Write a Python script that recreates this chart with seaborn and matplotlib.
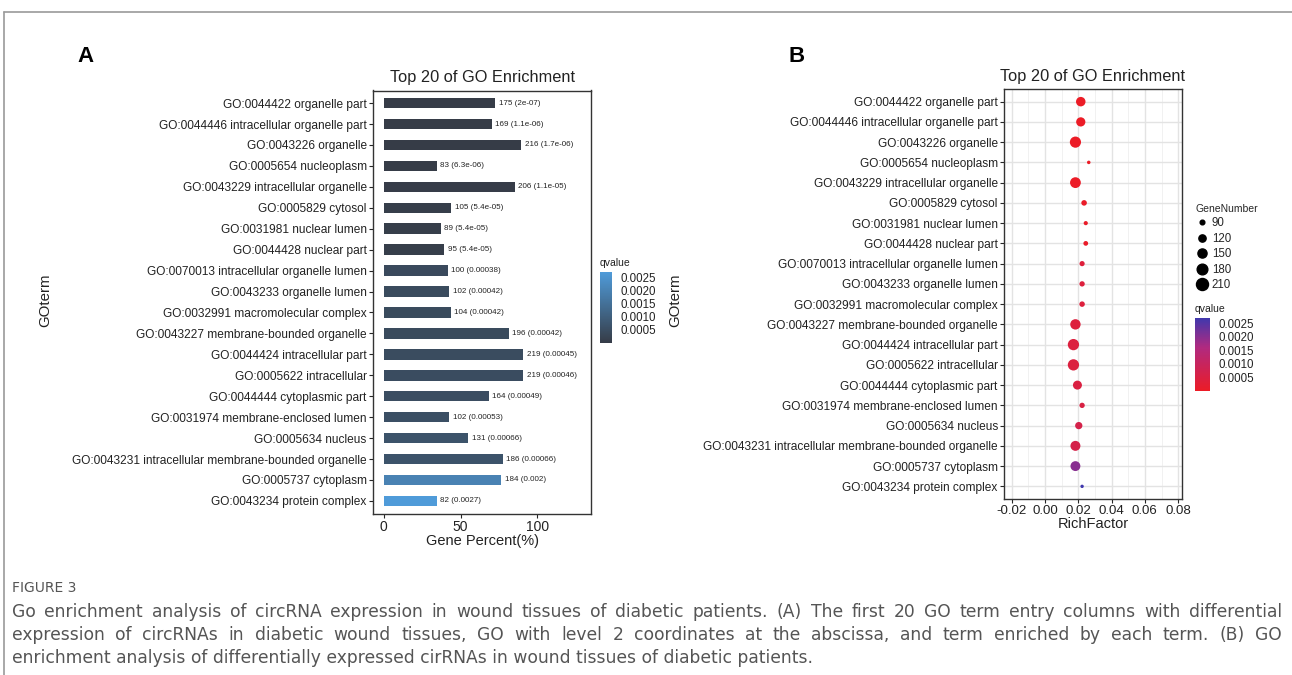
import numpy as np
import pandas as pd
import matplotlib
matplotlib.use("Agg")
import matplotlib.pyplot as plt
import seaborn as sns
from matplotlib.colors import LinearSegmentedColormap, Normalize
from matplotlib.cm import ScalarMappable
from matplotlib.lines import Line2D

terms = [
    "GO:0044422 organelle part",
    "GO:0044446 intracellular organelle part",
    "GO:0043226 organelle",
    "GO:0005654 nucleoplasm",
    "GO:0043229 intracellular organelle",
    "GO:0005829 cytosol",
    "GO:0031981 nuclear lumen",
    "GO:0044428 nuclear part",
    "GO:0070013 intracellular organelle lumen",
    "GO:0043233 organelle lumen",
    "GO:0032991 macromolecular complex",
    "GO:0043227 membrane-bounded organelle",
    "GO:0044424 intracellular part",
    "GO:0005622 intracellular",
    "GO:0044444 cytoplasmic part",
    "GO:0031974 membrane-enclosed lumen",
    "GO:0005634 nucleus",
    "GO:0043231 intracellular membrane-bounded organelle",
    "GO:0005737 cytoplasm",
    "GO:0043234 protein complex",
]
gene_number = [175, 169, 216, 83, 206, 105, 89, 95, 100, 102, 104, 196, 219, 219, 164, 102, 131, 186, 184, 82]
qvalue = [2e-07, 1.1e-06, 1.7e-06, 6.3e-06, 1.1e-05, 5.4e-05, 5.4e-05, 5.4e-05, 0.00038, 0.00042,
          0.00042, 0.00042, 0.00045, 0.00046, 0.00049, 0.00053, 0.00066, 0.00066, 0.002, 0.0027]
gene_percent = [72.7, 70.3, 89.7, 34.4, 85.4, 43.8, 37.0, 39.4, 41.6, 42.5,
                43.5, 81.4, 91.0, 91.0, 68.4, 42.5, 54.9, 77.5, 76.7, 34.4]
rich_factor = [0.0215, 0.0215, 0.0183, 0.0263, 0.0183, 0.0235, 0.0245, 0.0245, 0.0223, 0.0223,
               0.0223, 0.0183, 0.0171, 0.0171, 0.0195, 0.0223, 0.0203, 0.0183, 0.0183, 0.0223]
q_ticks = [0.0005, 0.0010, 0.0015, 0.0020, 0.0025]
size_legend = [90, 120, 150, 180, 210]
rich_ticks = [-0.02, 0.0, 0.02, 0.04, 0.06, 0.08]
rich_minor = [-0.01, 0.01, 0.03, 0.05, 0.07]
pct_ticks = [0, 50, 100]

caption_title = "FIGURE 3"
caption_lines = [
    "Go enrichment analysis of circRNA expression in wound tissues of diabetic patients. (A) The first 20 GO term entry columns with differential",
    "expression of circRNAs in diabetic wound tissues, GO with level 2 coordinates at the abscissa, and term enriched by each term. (B) GO",
    "enrichment analysis of differentially expressed cirRNAs in wound tissues of diabetic patients.",
]

df = pd.DataFrame({"term": terms, "count": gene_number, "q": qvalue,
                   "pct": gene_percent, "rich": rich_factor})

sns.set_theme(style="white")
plt.rcParams["font.family"] = ["Liberation Sans", "DejaVu Sans"]

W, H = 1292, 675
fig = plt.figure(figsize=(W / 100, H / 100), dpi=100)

def fbox(l, t, r, b):
    return [l / W, 1 - b / H, (r - l) / W, (b - t) / H]

qnorm = Normalize(vmin=min(qvalue), vmax=max(qvalue))
cmap_a = LinearSegmentedColormap.from_list("qa", ["#363c47", "#4f9bd9"])
cmap_b = LinearSegmentedColormap.from_list("qb", [(0, "#ec1c26"), (0.6, "#b02a80"), (1, "#4038ad")])

txt = "#222222"
# ---------------- Panel A ----------------
axA = fig.add_axes(fbox(373, 90.5, 591, 513.5))
sns.barplot(data=df, x="pct", y="term", hue="q", palette=cmap_a, hue_norm=qnorm,
            order=terms, dodge=False, legend=False, width=0.5, ax=axA,
            edgecolor="none", saturation=1)
axA.set_xticks(pct_ticks)
axA.set_xticklabels([str(t) for t in pct_ticks], fontsize=10, color=txt)
axA.set_xlim(-7, 135)
axA.set_ylim(19.6, -0.6)
axA.tick_params(axis="y", labelsize=8.6, labelcolor=txt, length=3, width=0.8, left=True, pad=1.5)
axA.tick_params(axis="x", length=3, width=0.8, bottom=True, pad=2)
axA.set_xlabel("Gene Percent(%)", fontsize=10.5, color=txt, labelpad=0)
axA.set_ylabel("")
for s in axA.spines.values():
    s.set_color("#333333"); s.set_linewidth(1.0); s.set_visible(True)
for i, (p, c, q) in enumerate(zip(gene_percent, gene_number, qvalue)):
    axA.text(p + 2.3, i, f"{c} ({q:.2g})", fontsize=5.8, color=txt, va="center", ha="left")
axA.set_title("Top 20 of GO Enrichment", fontsize=11.8, color=txt, pad=6)
fig.text(45 / W, 1 - 300 / H, "GOterm", rotation=90, fontsize=10.8, color=txt, ha="center", va="center")

caxA = fig.add_axes(fbox(600, 272, 612, 343))
cbA = fig.colorbar(ScalarMappable(norm=qnorm, cmap=cmap_a), cax=caxA)
cbA.set_ticks(q_ticks)
cbA.set_ticklabels([f"{t:.4f}" for t in q_ticks])
cbA.outline.set_visible(False)
caxA.tick_params(direction="in", color="white", length=2.5, width=0.6, labelsize=8.3,
                 labelcolor=txt, pad=6, left=True)
fig.text(600 / W, 1 - 263 / H, "qvalue", fontsize=7.5, color=txt, ha="left", va="center")

# ---------------- Panel B ----------------
axB = fig.add_axes(fbox(1004, 89.5, 1182, 498.5))
axB.set_facecolor("white")
sns.scatterplot(data=df, x="rich", y="term", size="count", sizes=(6, 66), size_norm=(82, 219),
                hue="q", palette=cmap_b, hue_norm=qnorm, legend=False, ax=axB,
                linewidth=0, zorder=3)
axB.set_xticks(rich_ticks)
axB.set_xticklabels([f"{t:.2f}" for t in rich_ticks], fontsize=9.5, color=txt)
axB.set_xticks(rich_minor, minor=True)
axB.set_xlim(-0.0246, 0.0823)
axB.set_ylim(19.6, -0.6)
axB.grid(True, which="major", color="#e3e3e3", linewidth=1.0, zorder=0)
axB.grid(True, which="minor", axis="x", color="#efefef", linewidth=0.6, zorder=0)
axB.tick_params(axis="y", labelsize=8.6, labelcolor=txt, length=3, width=0.8, left=True, pad=1.5)
axB.tick_params(axis="x", which="major", length=3, width=0.8, bottom=True, pad=2)
axB.tick_params(axis="x", which="minor", length=0)
axB.set_xlabel("RichFactor", fontsize=10.5, color=txt, labelpad=0)
axB.set_ylabel("")
axB.set_axisbelow(True)
for s in axB.spines.values():
    s.set_color("#333333"); s.set_linewidth(1.0); s.set_visible(True)
axB.set_title("Top 20 of GO Enrichment", fontsize=11.8, color=txt, pad=6)
fig.text(675 / W, 1 - 300 / H, "GOterm", rotation=90, fontsize=10.8, color=txt, ha="center", va="center")

# size legend
smin, smax = 6, 66
handles = []
for v in size_legend:
    area = smin + (v - 82) / (219 - 82) * (smax - smin)
    handles.append(Line2D([], [], marker="o", linestyle="", color="black",
                          markersize=np.sqrt(area) * 1.1, label=str(v)))
leg = fig.legend(handles=handles, title="GeneNumber", loc="upper left",
                 bbox_to_anchor=(1190 / W, 1 - 198 / H), frameon=False,
                 fontsize=8.3, title_fontsize=7.5, labelspacing=0.3,
                 handletextpad=0.4, handlelength=1.0, borderpad=0)
leg._legend_box.align = "left"

caxB = fig.add_axes(fbox(1195, 318, 1210, 391))
cbB = fig.colorbar(ScalarMappable(norm=qnorm, cmap=cmap_b), cax=caxB)
cbB.set_ticks(q_ticks)
cbB.set_ticklabels([f"{t:.4f}" for t in q_ticks])
cbB.outline.set_visible(False)
caxB.tick_params(direction="in", color="white", length=2.5, width=0.6, labelsize=8.3,
                 labelcolor=txt, pad=6, left=True)
fig.text(1195 / W, 1 - 309 / H, "qvalue", fontsize=7.5, color=txt, ha="left", va="center")

# panel letters
fig.text(85 / W, 1 - 57 / H, "A", fontsize=16, fontweight="bold", color="black", ha="center", va="center")
fig.text(797 / W, 1 - 57 / H, "B", fontsize=16, fontweight="bold", color="black", ha="center", va="center")

# frame lines
fig.add_artist(Line2D([4 / W, 1], [1 - 12 / H, 1 - 12 / H], color="#9a9a9a", linewidth=1.2))
fig.add_artist(Line2D([4 / W, 4 / W], [0, 1 - 12 / H], color="#9a9a9a", linewidth=1.2))

# caption (justified lines)
cap_font = ["DejaVu Sans"]
cap_col = "#555555"
fig.text(12 / W, 1 - 588 / H, caption_title, fontsize=10, color=cap_col,
         family=cap_font, ha="left", va="center")
renderer = fig.canvas.get_renderer()
left_px, right_px = 12, 1282
cap_size = 12.3
for k, line in enumerate(caption_lines):
    y = 1 - (612 + 23 * k) / H
    words = line.split(" ")
    justify = k < len(caption_lines) - 1
    if not justify:
        fig.text(left_px / W, y, line, fontsize=cap_size, color=cap_col,
                 family=cap_font, ha="left", va="center")
        continue
    objs = [fig.text(0, y, w, fontsize=cap_size, color=cap_col, family=cap_font,
                     ha="left", va="center") for w in words]
    widths = [o.get_window_extent(renderer).width for o in objs]
    gap = (right_px - left_px - sum(widths)) / (len(words) - 1)
    x = left_px
    for o, wd in zip(objs, widths):
        o.set_x(x / W)
        x += wd + gap

fig.savefig("out.png", dpi=100)
